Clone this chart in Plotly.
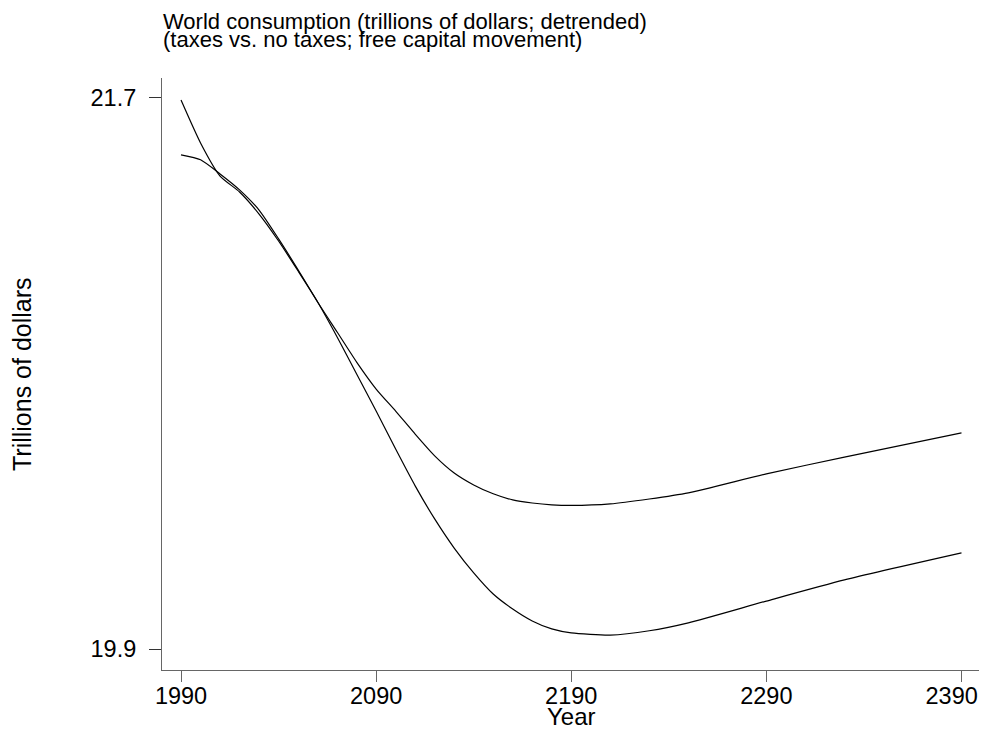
import plotly.graph_objects as go

# years sampled along both curves
years = [1990, 2000, 2010, 2020, 2030, 2040, 2050, 2060, 2070, 2080, 2090, 2100,
         2110, 2120, 2130, 2140, 2150, 2160, 2170, 2180, 2190, 2210, 2230, 2250,
         2290, 2330, 2390]

# world consumption, trillions of dollars (detrended)
taxes = [21.692, 21.552, 21.444, 21.392, 21.320, 21.232, 21.134, 21.033, 20.919, 20.798, 20.677, 20.553,
         20.433, 20.325, 20.230, 20.149, 20.080, 20.031, 19.992, 19.966, 19.953, 19.946, 19.960, 19.986,
         20.057, 20.126, 20.214]
no_taxes = [21.513, 21.497, 21.451, 21.399, 21.333, 21.239, 21.138, 21.033, 20.935, 20.837, 20.749, 20.677,
            20.602, 20.531, 20.475, 20.436, 20.407, 20.387, 20.377, 20.371, 20.369, 20.374, 20.390, 20.410,
            20.472, 20.527, 20.606]

x_ticks = [1990, 2090, 2190, 2290, 2390]
# last label is nudged left (trailing no-break spaces) so it stays inside the page
x_tick_text = ["1990", "2090", "2190", "2290", "2390\u00a0\u00a0\u00a0"]
y_ticks = [19.9, 21.7]

font_family = "Liberation Sans, Arial, Helvetica, sans-serif"

fig = go.Figure()
for name, values in [("taxes", taxes), ("no taxes", no_taxes)]:
    fig.add_trace(
        go.Scatter(
            x=years,
            y=values,
            mode="lines",
            name=name,
            line=dict(color="black", width=1.2, shape="spline", smoothing=0.6),
            showlegend=False,
        )
    )

# the page body has an 8px margin, so the figure is a little smaller than the window
fig.update_layout(
    width=979,
    height=726,
    margin=dict(l=154, r=6, t=70, b=64, autoexpand=False),
    paper_bgcolor="white",
    plot_bgcolor="white",
    font=dict(family=font_family, color="black", size=23.5),
)

title_lines = [
    ("World consumption (trillions of dollars; detrended)", 1.0954),
    ("(taxes vs. no taxes; free capital movement)", 1.0650),
]
for text, y_pos in title_lines:
    fig.add_annotation(
        text=text, xref="paper", yref="paper", x=0, y=y_pos,
        xanchor="left", yanchor="middle", showarrow=False,
        font=dict(size=22), borderpad=0,
    )

fig.add_annotation(
    text="Year", xref="paper", yref="paper", x=0.5, y=-0.079,
    xanchor="center", yanchor="middle", showarrow=False, font=dict(size=24), borderpad=0,
)
fig.add_annotation(
    text="Trillions of dollars", xref="paper", yref="paper", x=-0.1709, y=0.5,
    xanchor="center", yanchor="middle", textangle=-90, showarrow=False, font=dict(size=25),
)

fig.update_xaxes(
    range=[1980.25, 2400],
    tickvals=x_ticks,
    ticktext=x_tick_text,
    ticks="outside",
    ticklen=11,
    tickcolor="#666666",
    ticklabelstandoff=-6,
    ticklabeloverflow="allow",
    automargin=False,
    showline=True,
    linecolor="#666666",
    linewidth=1,
    showgrid=False,
    zeroline=False,
)
fig.update_yaxes(
    range=[19.832, 21.764],
    tickvals=y_ticks,
    tickformat=".1f",
    ticks="outside",
    ticklen=12,
    tickcolor="#333333",
    ticklabelstandoff=8,
    automargin=False,
    showline=True,
    linecolor="#666666",
    linewidth=1,
    showgrid=False,
    zeroline=False,
)

fig.write_html("out.html")
